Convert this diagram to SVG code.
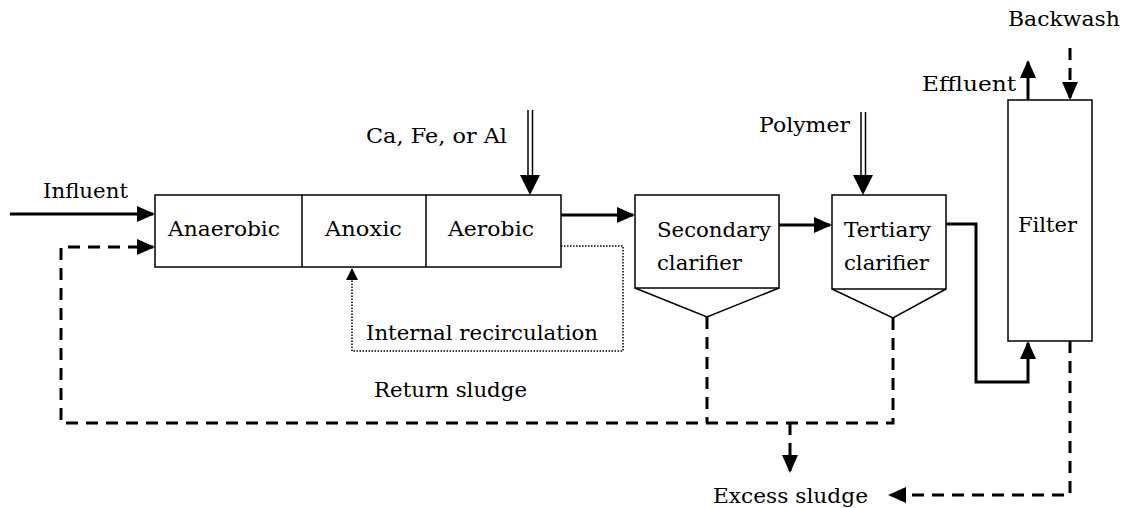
<svg xmlns="http://www.w3.org/2000/svg" width="1126" height="508" viewBox="0 0 1126 508">
<style>
text{font-family:"DejaVu Serif","Liberation Serif",serif;font-size:21px;fill:#000}
.box{fill:#fff;stroke:#000;stroke-width:1.5}
.thin{fill:none;stroke:#000;stroke-width:1.5}
.flow{fill:none;stroke:#000;stroke-width:3}
.dash{fill:none;stroke:#000;stroke-width:3;stroke-dasharray:12 8}
.dot{fill:none;stroke:#000;stroke-width:1.5;stroke-dasharray:1.5 1.5}
</style>
<defs>
<marker id="ah" viewBox="0 0 18 16" refX="16" refY="8" markerWidth="18" markerHeight="16" markerUnits="userSpaceOnUse" orient="auto"><path d="M0,0 L18,8 L0,16 z" fill="#000"/></marker>
<marker id="ahs" viewBox="0 0 12 12" refX="11" refY="6" markerWidth="12" markerHeight="12" markerUnits="userSpaceOnUse" orient="auto"><path d="M0,0 L12,6 L0,12 z" fill="#000"/></marker>
</defs>
<rect width="1126" height="508" fill="#fff"/>
<g id="bioreactor">
<rect class="box" x="155" y="195" width="406" height="72"/>
<line class="thin" x1="302" y1="195" x2="302" y2="267"/>
<line class="thin" x1="426" y1="195" x2="426" y2="267"/>
<text x="168" y="236" textLength="112" lengthAdjust="spacingAndGlyphs">Anaerobic</text>
<text x="325" y="236" textLength="77" lengthAdjust="spacingAndGlyphs">Anoxic</text>
<text x="448" y="236" textLength="86" lengthAdjust="spacingAndGlyphs">Aerobic</text>
</g>
<g id="secondary-clarifier">
<rect class="box" x="635" y="195" width="144" height="93"/>
<path class="thin" d="M635,288 L707,317 L779,288"/>
<text x="657" y="237" textLength="114" lengthAdjust="spacingAndGlyphs">Secondary</text>
<text x="657" y="270" textLength="85" lengthAdjust="spacingAndGlyphs">clarifier</text>
</g>
<g id="tertiary-clarifier">
<rect class="box" x="832" y="195" width="114" height="94"/>
<path class="thin" d="M832,289 L893,318 L946,289"/>
<text x="844" y="237" textLength="87" lengthAdjust="spacingAndGlyphs">Tertiary</text>
<text x="844" y="270" textLength="85" lengthAdjust="spacingAndGlyphs">clarifier</text>
</g>
<g id="filter">
<rect class="box" x="1008" y="100" width="84" height="241"/>
<text x="1018" y="232" textLength="59" lengthAdjust="spacingAndGlyphs">Filter</text>
</g>
<g id="labels">
<text x="43" y="198" textLength="85" lengthAdjust="spacingAndGlyphs">Influent</text>
<text x="366" y="143" textLength="141" lengthAdjust="spacingAndGlyphs">Ca, Fe, or Al</text>
<text x="759" y="132" textLength="91" lengthAdjust="spacingAndGlyphs">Polymer</text>
<text x="1008" y="26" textLength="112" lengthAdjust="spacingAndGlyphs">Backwash</text>
<text x="922" y="91" textLength="94" lengthAdjust="spacingAndGlyphs">Effluent</text>
<text x="366" y="340" textLength="232" lengthAdjust="spacingAndGlyphs">Internal recirculation</text>
<text x="374" y="397" textLength="153" lengthAdjust="spacingAndGlyphs">Return sludge</text>
<text x="713" y="503" textLength="155" lengthAdjust="spacingAndGlyphs">Excess sludge</text>
</g>
<g id="connectors">
<path class="flow" d="M10,214 H153" marker-end="url(#ah)"/>
<path class="flow" d="M561,215 H633" marker-end="url(#ah)"/>
<path class="flow" d="M779,225 H830" marker-end="url(#ah)"/>
<path class="flow" d="M946,224 H976 V382 H1028 V343" marker-end="url(#ah)"/>
<path class="flow" d="M1028,100 V62" marker-end="url(#ah)"/>
<path class="dash" d="M1070,48 V98" marker-end="url(#ah)"/>
<path class="dash" d="M893,318 V423 H61 V247 H153" marker-end="url(#ah)"/>
<path class="dash" d="M707,317 V423"/>
<path class="dash" d="M790,423 V471" marker-end="url(#ah)"/>
<path class="dash" d="M1070,341 V495 H890" marker-end="url(#ah)"/>
<path class="dot" d="M561,246 H623 V351 H352 V269" marker-end="url(#ahs)"/>
<line class="thin" x1="528" y1="110" x2="528" y2="178"/>
<line class="thin" x1="532.5" y1="110" x2="532.5" y2="178"/>
<polygon points="520,175 540,175 530,195" fill="#000"/>
<line class="thin" x1="861" y1="112" x2="861" y2="178"/>
<line class="thin" x1="865.5" y1="112" x2="865.5" y2="178"/>
<polygon points="853,175 873,175 863,195" fill="#000"/>
</g>
</svg>
